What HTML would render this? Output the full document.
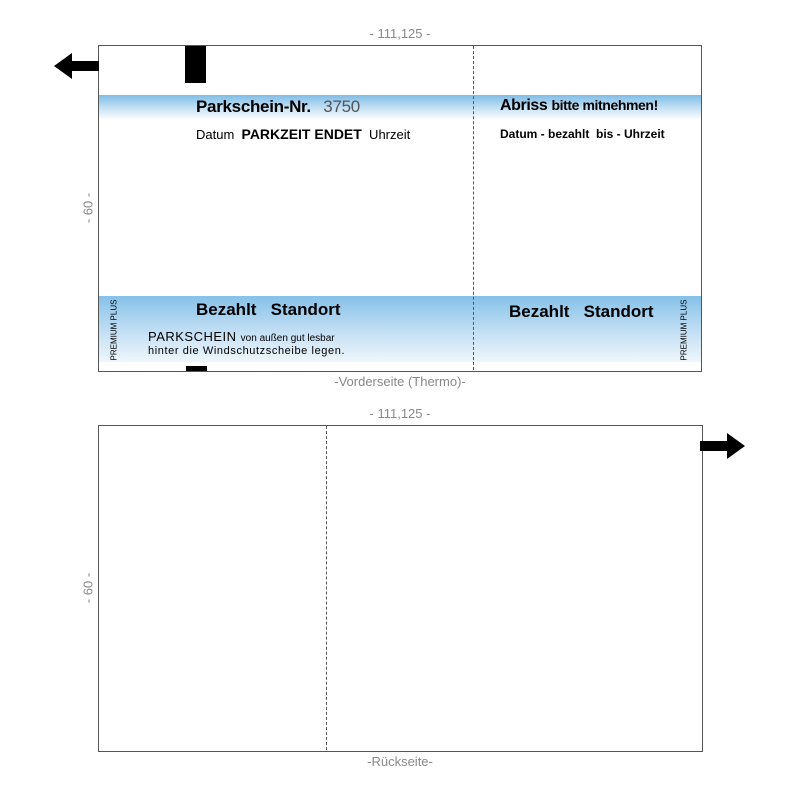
<!DOCTYPE html>
<html><head><meta charset="utf-8"><style>
body{margin:0;width:800px;height:800px;background:#fff;position:relative;font-family:"Liberation Sans",sans-serif;overflow:hidden}
.a{position:absolute}
.lbl{color:#888;font-size:13px}
</style></head><body>
<div class="a lbl" style="left:0;width:800px;top:26px;text-align:center">- 111,125 -</div>
<div class="a" style="left:98px;top:45px;width:602px;height:325px;border:1px solid #555"></div>
<div class="a" style="left:99px;top:95px;width:602px;height:25px;background:linear-gradient(#7fbde6,#cfe6f6 60%,#fff)"></div>
<div class="a" style="left:99px;top:296px;width:602px;height:66px;background:linear-gradient(#86c1e8,#c9e2f5 60%,#eef6fc)"></div>
<div class="a" style="left:473px;top:46px;height:324px;border-left:1px dashed #555"></div>
<div class="a" style="left:185px;top:46px;width:21px;height:37px;background:#000"></div>
<div class="a" style="left:186px;top:366px;width:21px;height:5px;background:#000"></div>
<svg class="a" style="left:54px;top:52px" width="46" height="28"><polygon points="0,14 18,1 18,9 45,9 45,19 18,19 18,27" fill="#000"/></svg>
<div class="a" style="left:196px;top:97px;font-size:17px;font-weight:bold;letter-spacing:-0.3px">Parkschein-Nr. <span style="font-weight:normal;color:#555;margin-left:8px">3750</span></div>
<div class="a" style="left:196px;top:126px;font-size:13px">Datum &nbsp;<b style="font-size:14px">PARKZEIT ENDET</b>&nbsp; Uhrzeit</div>
<div class="a" style="left:500px;top:97px;font-size:16px;font-weight:bold;letter-spacing:-0.4px">Abriss <span style="font-size:14px">bitte mitnehmen!</span></div>
<div class="a" style="left:500px;top:127px;font-size:12px;font-weight:bold">Datum - bezahlt &nbsp;bis - Uhrzeit</div>
<div class="a" style="left:196px;top:300px;font-size:17px;font-weight:bold;word-spacing:0px">Bezahlt &nbsp;&nbsp;Standort</div>
<div class="a" style="left:509px;top:302px;font-size:17px;font-weight:bold;word-spacing:0px">Bezahlt &nbsp;&nbsp;Standort</div>
<div class="a" style="left:148px;top:329px;font-size:13px;letter-spacing:0.5px">PARKSCHEIN <span style="font-size:10px;letter-spacing:0">von außen gut lesbar</span></div>
<div class="a" style="left:148px;top:345px;font-size:11px;letter-spacing:0.6px">hinter die Windschutzscheibe legen.</div>
<div class="a" style="left:114px;top:330px;font-size:8px;transform:translate(-50%,-50%) rotate(-90deg);white-space:nowrap">PREMIUM PLUS</div>
<div class="a" style="left:684px;top:330px;font-size:8px;transform:translate(-50%,-50%) rotate(-90deg);white-space:nowrap">PREMIUM PLUS</div>
<div class="a lbl" style="left:88px;top:208px;transform:translate(-50%,-50%) rotate(-90deg);white-space:nowrap">- 60 -</div>
<div class="a lbl" style="left:0;width:800px;top:374px;text-align:center">-Vorderseite (Thermo)-</div>

<div class="a lbl" style="left:0;width:800px;top:406px;text-align:center">- 111,125 -</div>
<div class="a" style="left:98px;top:425px;width:603px;height:325px;border:1px solid #555"></div>
<div class="a" style="left:326px;top:426px;height:324px;border-left:1px dashed #555"></div>
<svg class="a" style="left:700px;top:432px" width="46" height="28"><polygon points="45,14 27,1 27,9 0,9 0,19 27,19 27,27" fill="#000"/></svg>
<div class="a lbl" style="left:88px;top:588px;transform:translate(-50%,-50%) rotate(-90deg);white-space:nowrap">- 60 -</div>
<div class="a lbl" style="left:0;width:800px;top:754px;text-align:center">-Rückseite-</div>
</body></html>
